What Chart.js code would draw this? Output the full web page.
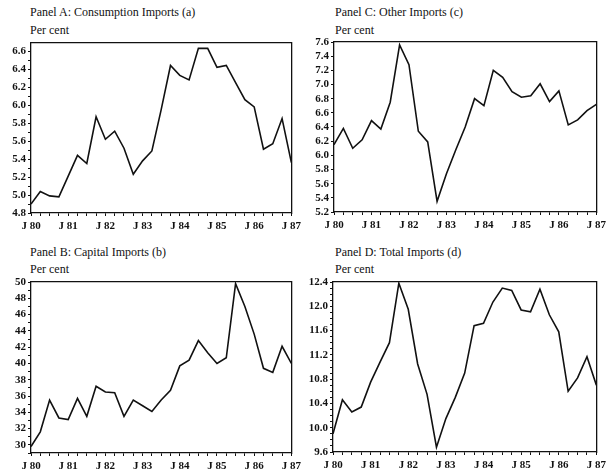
<!DOCTYPE html>
<html>
<head>
<meta charset="utf-8">
<script src="https://cdn.jsdelivr.net/npm/chart.js@4/dist/chart.umd.min.js"></script>
<style>
body { margin: 0; background: #fff; }
#wrap { position: relative; width: 610px; height: 473px; }
canvas { position: absolute; }
.ttl { position: absolute; font: 12px "Liberation Serif", serif; color: #111; white-space: nowrap; line-height: 14px; }
</style>
</head>
<body>
<div id="wrap">
  <div class="ttl" style="left:30px;top:5px">Panel A: Consumption Imports (a)</div>
  <div class="ttl" style="left:30px;top:23px">Per cent</div>
  <div class="ttl" style="left:335px;top:5px">Panel C: Other Imports (c)</div>
  <div class="ttl" style="left:335px;top:23px">Per cent</div>
  <div class="ttl" style="left:30px;top:245px">Panel B: Capital Imports (b)</div>
  <div class="ttl" style="left:30px;top:262px">Per cent</div>
  <div class="ttl" style="left:335px;top:245px">Panel D: Total Imports (d)</div>
  <div class="ttl" style="left:335px;top:262px">Per cent</div>
  <canvas id="cA" width="305" height="236" style="left:0;top:0"></canvas>
  <canvas id="cC" width="305" height="236" style="left:305px;top:0"></canvas>
  <canvas id="cB" width="305" height="237" style="left:0;top:236px"></canvas>
  <canvas id="cD" width="305" height="237" style="left:305px;top:236px"></canvas>
</div>
<script>
// quarterly, J 80 .. J 87
var yearLabels = ['J 80', 'J 81', 'J 82', 'J 83', 'J 84', 'J 85', 'J 86', 'J 87'];

var consumption = [4.90, 5.04, 4.99, 4.98, 5.21, 5.44, 5.35, 5.87,
                   5.62, 5.71, 5.52, 5.23, 5.38, 5.49, 5.95, 6.44,
                   6.33, 6.28, 6.63, 6.63, 6.42, 6.44, 6.25, 6.06,
                   5.98, 5.51, 5.57, 5.85, 5.36];
var other = [6.15, 6.38, 6.10, 6.22, 6.49, 6.37, 6.75, 7.56,
             7.28, 6.34, 6.19, 5.35, 5.74, 6.08, 6.40, 6.80,
             6.70, 7.20, 7.10, 6.90, 6.82, 6.84, 7.01, 6.76,
             6.91, 6.43, 6.50, 6.63, 6.72];
var capital = [29.8, 31.6, 35.5, 33.3, 33.1, 35.7, 33.5, 37.2,
               36.5, 36.4, 33.5, 35.5, 34.8, 34.1, 35.5, 36.7,
               39.7, 40.4, 42.8, 41.3, 40.0, 40.7, 49.8, 47.0,
               43.6, 39.4, 38.9, 42.1, 40.0];
var total = [9.90, 10.46, 10.26, 10.34, 10.75, 11.08, 11.40, 12.38,
             11.95, 11.05, 10.55, 9.68, 10.15, 10.50, 10.90, 11.68,
             11.72, 12.07, 12.30, 12.26, 11.94, 11.91, 12.28, 11.86,
             11.58, 10.60, 10.82, 11.17, 10.70];

// labelled y ticks per panel
var ticksA = [4.8, 5.0, 5.2, 5.4, 5.6, 5.8, 6.0, 6.2, 6.4, 6.6];
var ticksC = [5.2, 5.4, 5.6, 5.8, 6.0, 6.2, 6.4, 6.6, 6.8, 7.0, 7.2, 7.4, 7.6];
var ticksB = [30, 32, 34, 36, 38, 40, 42, 44, 46, 48, 50];
var ticksD = [9.6, 10.0, 10.4, 10.8, 11.2, 11.6, 12.0, 12.4];

var font = { family: '"Liberation Serif", serif', size: 11, weight: 'bold' };
var ink = '#111';

function makePanel(id, values, tickList, yMin, yMax, minor, dec, box) {
    var pts = values.map(function(v, i) { return { x: i, y: v }; });
    // minor tick positions (unlabelled) in units of the minor step
    var nMinor = Math.round((tickList[tickList.length - 1] - yMin) / minor);
    var yAll = [];
    for (var k = 0; k <= nMinor; k++) yAll.push(+(yMin + k * minor).toFixed(4));
    var isLabel = function(v) {
        return tickList.some(function(t) { return Math.abs(t - v) < 1e-6; });
    };
    var edge = {
        display: true,
        grid: { display: false, drawTicks: false },
        ticks: { display: false },
        border: { display: true, color: ink, width: 1.3 }
    };
    return new Chart(document.getElementById(id), {
        type: 'line',
        data: {
            datasets: [{
                data: pts,
                borderColor: ink,
                borderWidth: 1.6,
                pointRadius: 0,
                tension: 0,
                fill: false
            }]
        },
        options: {
            responsive: false,
            animation: false,
            layout: { padding: { top: box.top, right: box.right, left: 0, bottom: 0 } },
            plugins: {
                legend: { display: false },
                tooltip: { enabled: false }
            },
            scales: {
                x: {
                    type: 'linear',
                    min: 0,
                    max: 28,
                    grid: { display: true, drawOnChartArea: false, drawTicks: true, tickLength: 3, color: ink, tickColor: ink },
                    border: { display: true, color: ink, width: 1.3 },
                    afterBuildTicks: function(s) {
                        var t = [];
                        for (var i = 0; i <= 28; i++) t.push({ value: i });
                        s.ticks = t;
                    },
                    afterFit: function(s) { s.height = box.xh; },
                    ticks: {
                        color: ink,
                        font: font,
                        padding: 4,
                        maxRotation: 0,
                        autoSkip: false,
                        callback: function(v) { return v % 4 === 0 ? yearLabels[v / 4] : ''; }
                    }
                },
                y: {
                    min: yMin,
                    max: yMax,
                    grid: { display: true, drawOnChartArea: false, drawTicks: true, tickLength: 3, color: ink, tickColor: ink },
                    border: { display: true, color: ink, width: 1.3 },
                    afterBuildTicks: function(s) {
                        s.ticks = yAll.map(function(v) { return { value: v }; });
                    },
                    afterFit: function(s) { s.width = box.left; },
                    ticks: {
                        color: ink,
                        font: font,
                        padding: 2,
                        autoSkip: false,
                        callback: function(v) { return isLabel(v) ? v.toFixed(dec) : ''; }
                    }
                },
                x2: Object.assign({ type: 'linear', position: 'top', min: 0, max: 28,
                    afterFit: function(s) { s.height = 0; } }, edge),
                y2: Object.assign({ type: 'linear', position: 'right', min: yMin, max: yMax,
                    afterFit: function(s) { s.width = 0; } }, edge)
            }
        }
    });
}

makePanel('cA', consumption, ticksA, 4.8, 6.69, 0.1, 1, { top: 43, right: 8, left: 31, xh: 23 });
makePanel('cC', other, ticksC, 5.2, 7.6, 0.2, 1, { top: 42, right: 5, left: 29, xh: 24 });
makePanel('cB', capital, ticksB, 29, 50, 1, 0, { top: 46, right: 8, left: 31, xh: 20 });
makePanel('cD', total, ticksD, 9.6, 12.4, 0.1, 1, { top: 46, right: 5, left: 28, xh: 21 });
</script>
</body>
</html>
